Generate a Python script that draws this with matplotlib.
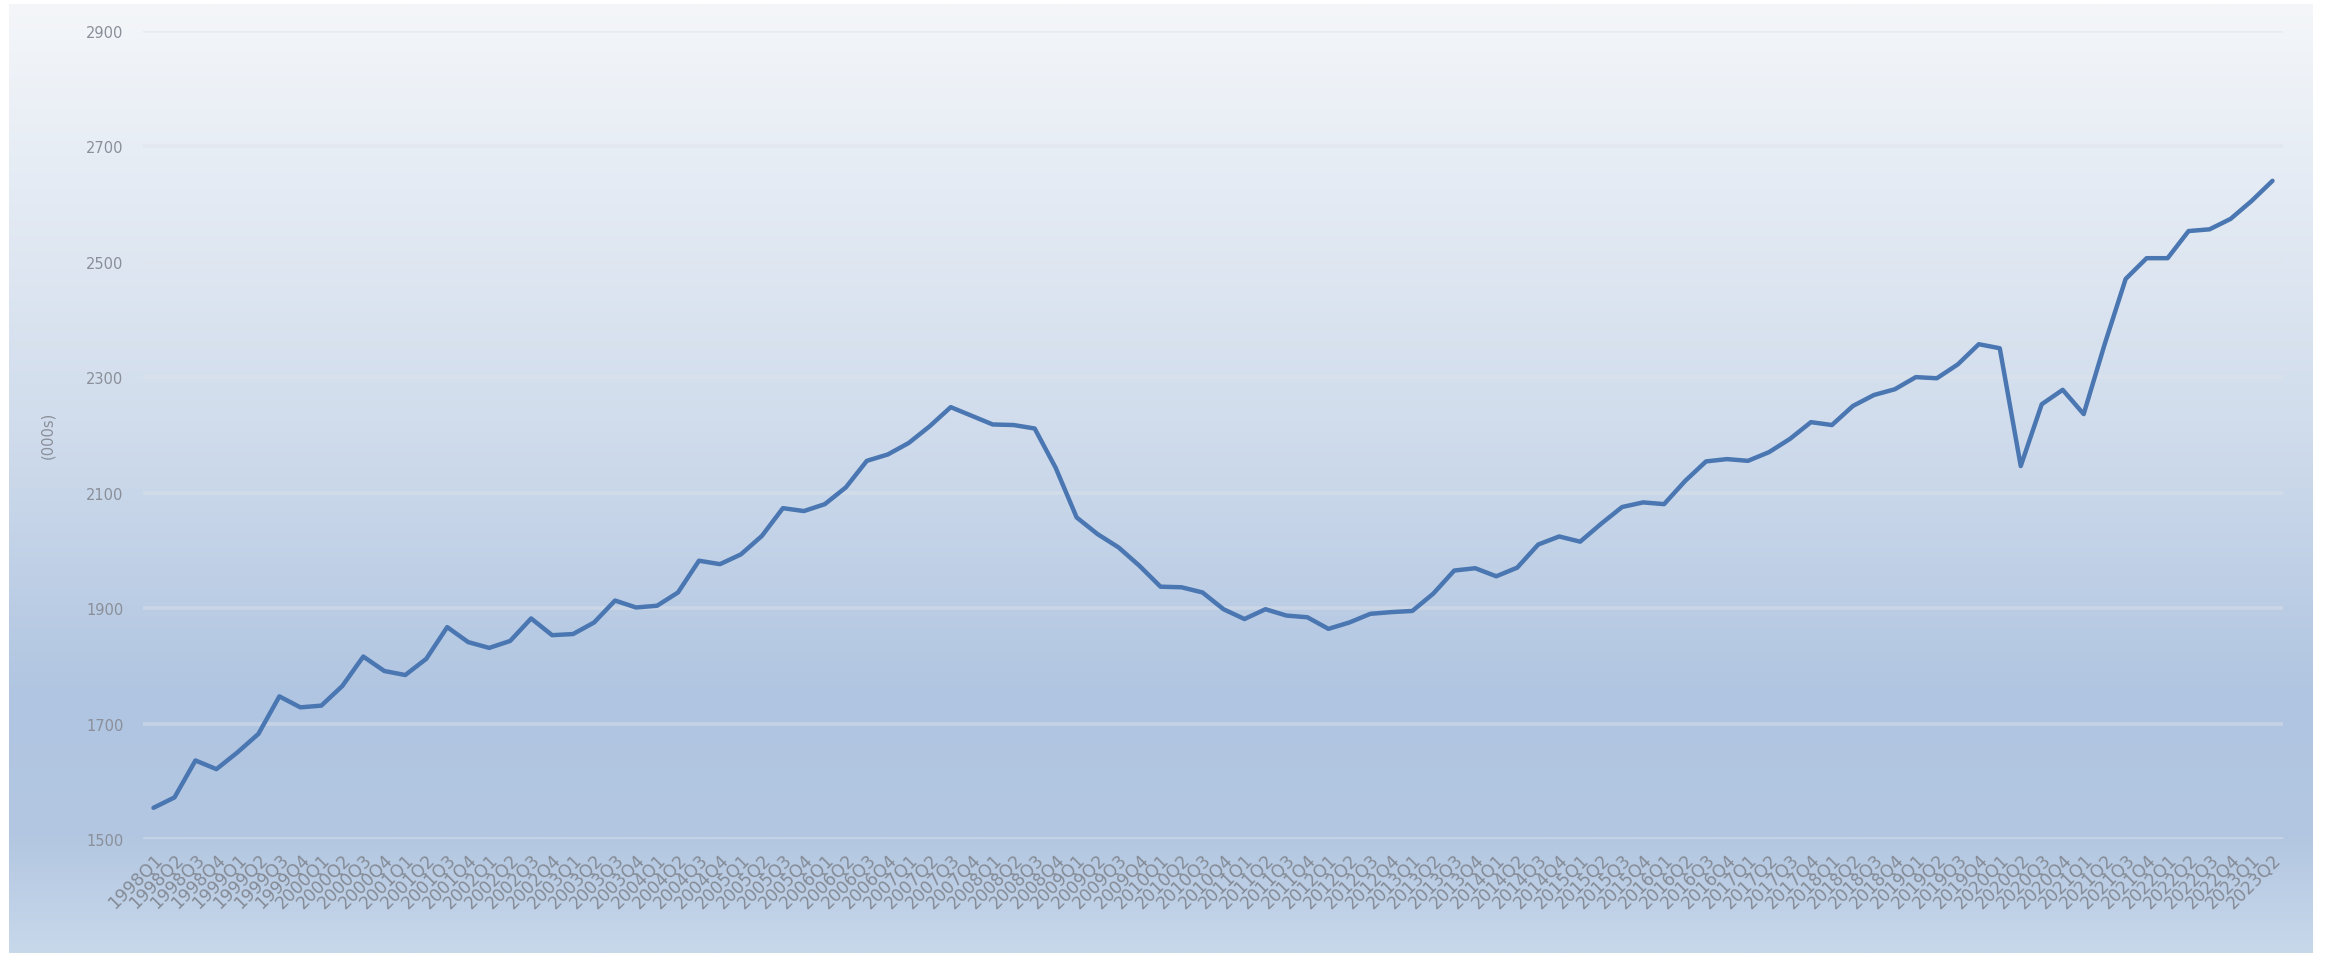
import numpy as np
import matplotlib
matplotlib.use("Agg")
import matplotlib.pyplot as plt
from matplotlib.colors import to_rgb

# ---- data (persons in employment, 000s, quarterly) ----
years = list(range(1998, 2024))
quarters = [f"{y}Q{q}" for y in years for q in (1, 2, 3, 4)][:102]

employment = [
    1554, 1572, 1636, 1621, 1650, 1682, 1747, 1728, 1731, 1765,
    1816, 1791, 1784, 1812, 1867, 1841, 1831, 1843, 1882, 1853,
    1855, 1875, 1913, 1901, 1904, 1927, 1982, 1976, 1993, 2025,
    2073, 2068, 2080, 2109, 2155, 2166, 2186, 2215, 2248, 2233,
    2218, 2217, 2211, 2143, 2057, 2028, 2005, 1973, 1937, 1936,
    1927, 1898, 1881, 1898, 1887, 1884, 1864, 1875, 1890, 1893,
    1895, 1925, 1965, 1969, 1955, 1970, 2010, 2024, 2015, 2046,
    2075, 2083, 2080, 2120, 2154, 2158, 2155, 2170, 2193, 2222,
    2217, 2250, 2269, 2279, 2300, 2298, 2322, 2357, 2350, 2146,
    2253, 2278, 2236, 2357, 2470, 2506, 2506, 2553, 2556, 2574,
    2605, 2640,
]

y_ticks = [1500, 1700, 1900, 2100, 2300, 2500, 2700, 2900]
y_label = "(000s)"

W, H = 2331, 954
fig = plt.figure(figsize=(W / 100, H / 100), dpi=100, facecolor="white")

# ---- gradient background panel ----
bg = fig.add_axes([9 / W, 0, (2313 - 9) / W, (H - 5) / H], zorder=-10)
stops = [(0.0, "#f4f6f9"), (0.16, "#e7edf5"), (0.45, "#d0dcec"),
         (0.73, "#b0c5e1"), (0.88, "#b3c7e1"), (1.0, "#c8d8eb")]
pos = np.array([s[0] for s in stops])
cols = np.array([to_rgb(s[1]) for s in stops])
t = np.linspace(0, 1, 600)
grad = np.stack([np.interp(t, pos, cols[:, k]) for k in range(3)], axis=1)
img = np.repeat(grad[:, None, :], 2, axis=1)
bg.imshow(img, aspect="auto", extent=[0, 1, 0, 1], origin="upper")
bg.set_axis_off()

# ---- main axes ----
left, right = 143 / W, 2283 / W
bottom, top = 1 - 840 / H, 1 - 31.7 / H
ax = fig.add_axes([left, bottom, right - left, top - bottom])
ax.set_facecolor("none")

x = np.arange(len(employment))
ax.plot(x, employment, color="#4a76b2", lw=3.2, solid_joinstyle="round",
        solid_capstyle="round", zorder=3)

ax.set_xlim(-0.5, len(employment) - 0.5)
ax.set_ylim(1500, 2900)
ax.set_yticks(y_ticks)
ax.set_yticklabels([str(v) for v in y_ticks])
ax.yaxis.grid(True, color="#dfe4ea", alpha=0.45, lw=2.6)
ax.set_axisbelow(True)

ax.set_xticks(x)
ax.set_xticklabels(quarters, rotation=45, ha="right", rotation_mode="anchor",
                   fontsize=12.5, color="#858b96")
for s in ax.spines.values():
    s.set_visible(False)
ax.tick_params(axis="both", length=0)
ax.tick_params(axis="y", labelsize=10.5, labelcolor="#8a8f99", pad=14)
ax.tick_params(axis="x", pad=8)
ax.set_ylabel(y_label, fontsize=10.5, color="#8a8f99", labelpad=22)

fig.savefig("out.png", dpi=100, facecolor="white")
